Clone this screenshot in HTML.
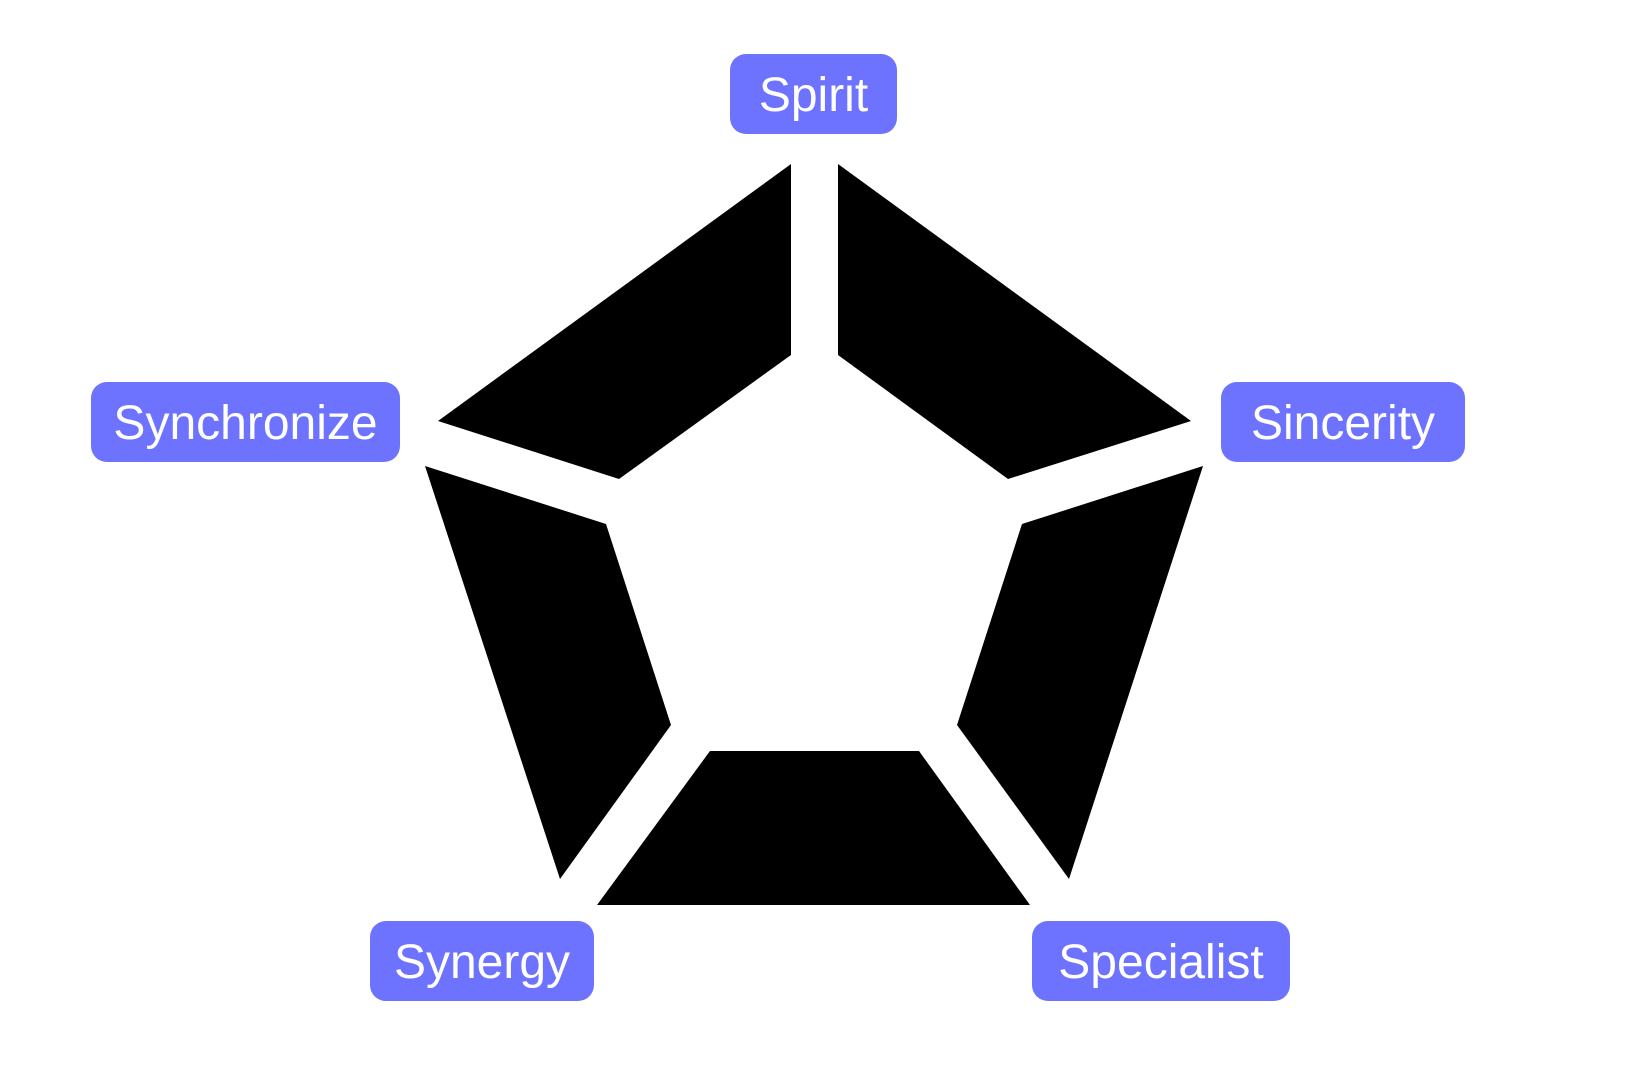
<!DOCTYPE html>
<html><head><meta charset="utf-8"><style>
html,body{margin:0;padding:0;background:#fff;width:1625px;height:1076px;overflow:hidden}
</style></head><body>
<svg width="1625" height="1076" viewBox="0 0 1625 1076" xmlns="http://www.w3.org/2000/svg">
<g transform="translate(-3,-2)">
<g fill="#000">
<polygon points="794,166 794,357 622,481 441,423"/>
<polygon points="841,166 1194,423 1011,481 841,357"/>
<polygon points="1206,468 1072,881 960,727 1025,526"/>
<polygon points="713,753 922,753 1033,907 600,907"/>
<polygon points="428,468 609,526 674,727 563,881"/>
</g>
<g fill="#6e73ff">
<rect x="733" y="56" width="167" height="80" rx="16"/>
<rect x="94" y="384" width="309" height="80" rx="16"/>
<rect x="1224" y="384" width="244" height="80" rx="16"/>
<rect x="373" y="923" width="224" height="80" rx="16"/>
<rect x="1035" y="923" width="258" height="80" rx="16"/>
</g>
<g fill="#fff" font-family="Liberation Sans, sans-serif" font-size="48" text-anchor="middle">
<text x="816.5" y="113">Spirit</text>
<text x="248.5" y="441">Synchronize</text>
<text x="1346" y="441">Sincerity</text>
<text x="485" y="980">Synergy</text>
<text x="1164" y="980">Specialist</text>
</g>
</g>
</svg>
</body></html>
